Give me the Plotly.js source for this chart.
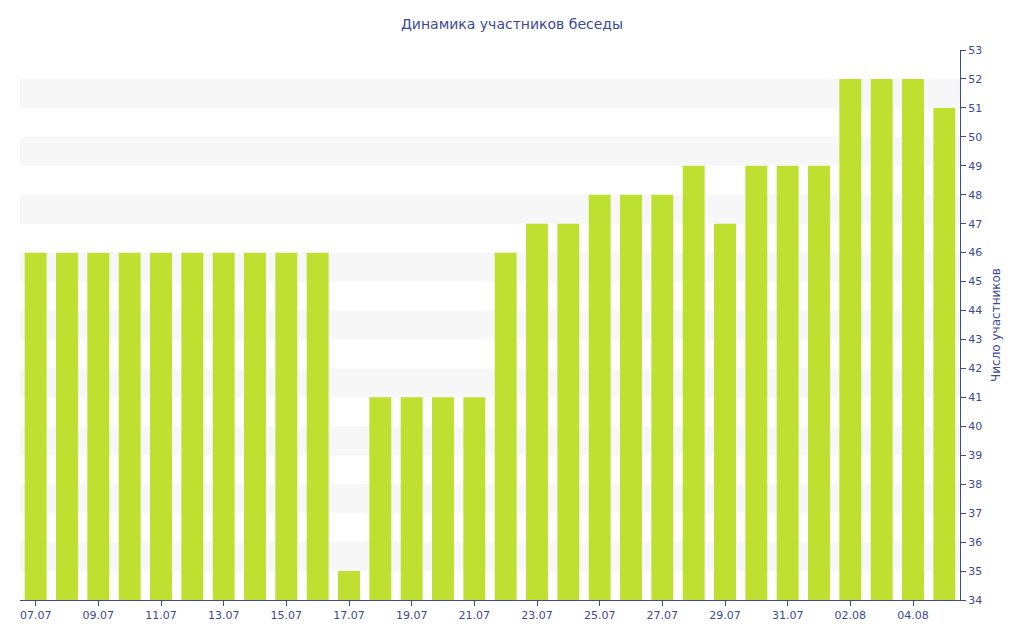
<!DOCTYPE html>
<html><head><meta charset="utf-8">
<script src="https://cdn.plot.ly/plotly-3.0.1.min.js"></script>
<style>body{margin:0}#chart{width:1024px;height:640px}</style>
</head><body><div id="chart"></div>
<script>
const dates = ['07.07','08.07','09.07','10.07','11.07','12.07','13.07','14.07','15.07','16.07',
  '17.07','18.07','19.07','20.07','21.07','22.07','23.07','24.07','25.07','26.07',
  '27.07','28.07','29.07','30.07','31.07','01.08','02.08','03.08','04.08','05.08'];
const members = [46,46,46,46,46,46,46,46,46,46,35,41,41,41,41,46,47,47,48,48,48,49,47,49,49,49,52,52,52,51];
const tickDates = dates.filter((d, i) => i % 2 === 0);

const blue = '#3a4a9a';
const shapes = [];
for (let y = 35; y < 53; y += 2) {
  shapes.push({type:'rect', xref:'paper', yref:'y', x0:0, x1:1, y0:y, y1:y+1,
    fillcolor:'#f7f7f7', line:{width:0}, layer:'below'});
}

const trace = {x: dates, y: members, type:'bar', marker:{color:'#bfe031'}, hoverinfo:'x+y'};
const layout = {
  title:{text:'Динамика участников беседы', font:{family:'DejaVu Sans', size:14, color:blue}, x:0.5, y:0.97},
  font:{family:'DejaVu Sans', size:11, color:blue},
  margin:{l:20, r:64, t:50, b:40},
  bargap:0.3,
  showlegend:false,
  shapes: shapes,
  xaxis:{type:'category', tickvals:tickDates, ticktext:tickDates, showgrid:false,
    showline:true, linecolor:blue, ticks:'outside', tickcolor:blue, ticklen:5,
    tickfont:{color:blue, size:11}},
  yaxis:{side:'right', range:[34,53], dtick:1, showgrid:false, zeroline:false,
    showline:true, linecolor:blue, ticks:'outside', tickcolor:blue, ticklen:5,
    tickfont:{color:blue, size:11},
    title:{text:'Число участников', font:{color:blue, size:12}}},
  paper_bgcolor:'#fff', plot_bgcolor:'#fff'
};
Plotly.newPlot('chart', [trace], layout, {displayModeBar:false});
</script></body></html>
